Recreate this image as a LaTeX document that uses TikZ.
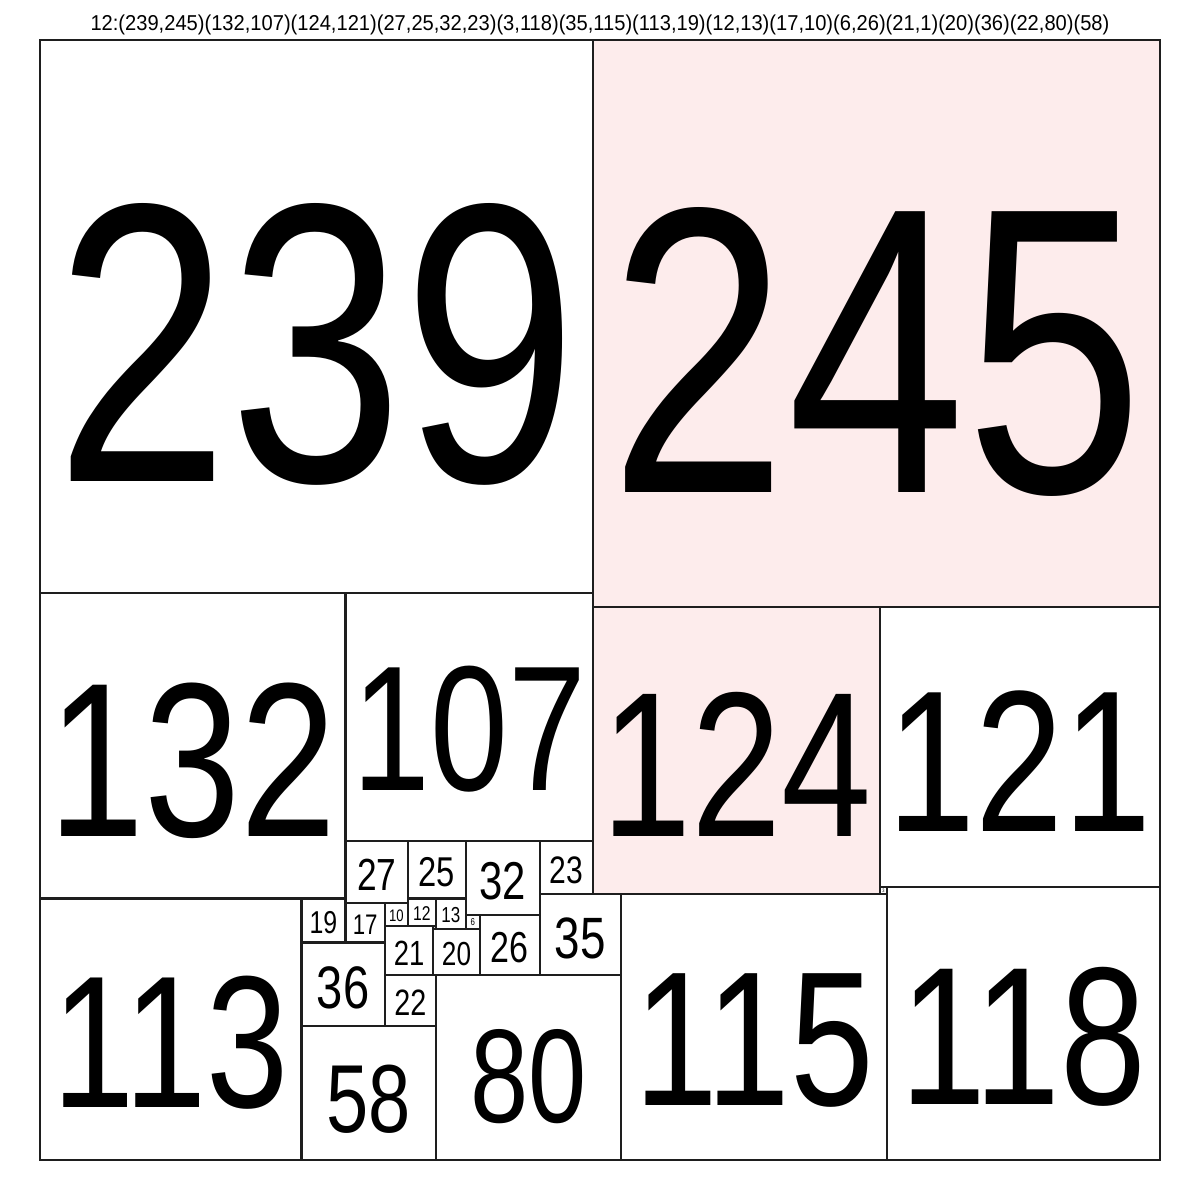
\documentclass[tikz,border=0pt]{standalone}
\usepackage{fontspec}
\usepackage{graphicx}
\setmainfont{Liberation Sans}
\definecolor{pinkfill}{RGB}{253,236,236}
\definecolor{edge}{RGB}{30,30,30}
\tikzset{
  sqline/.style={draw=edge, line width=0.95pt},
  sqlabel/.style={inner sep=0pt, text=black},
}
\newcommand\mysq[4]{% name, x, y, side
  \draw[sqline] (#2,#3) rectangle ++(#4,#4);
  \pgfmathsetmacro\myfs{0.72*#4}%
  \node[sqlabel] (#1) at ({#2+#4/2},{#3+#4*0.55}) {\fontsize{\myfs pt}{\myfs pt}\selectfont\scalebox{0.785}[1]{#4}};
}
\begin{document}
\begin{tikzpicture}[x=1pt,y=-1pt]
\useasboundingbox[fill=white] (-17.286,-17.286) rectangle (501.286,501.286);
% pink fills
\fill[pinkfill] (239,0) rectangle ++(245,245);
\fill[pinkfill] (239,245) rectangle ++(124,124);
% squares
\mysq{q239}{0}{0}{239}
\mysq{q245}{239}{0}{245}
\mysq{q132}{0}{239}{132}
\mysq{q107}{132}{239}{107}
\mysq{q124}{239}{245}{124}
\mysq{q121}{363}{245}{121}
\mysq{q27}{132}{346}{27}
\mysq{q25}{159}{346}{25}
\mysq{q32}{184}{346}{32}
\mysq{q23}{216}{346}{23}
\mysq{q3}{363}{366}{3}
\mysq{q118}{366}{366}{118}
\mysq{q35}{216}{369}{35}
\mysq{q115}{251}{369}{115}
\mysq{q113}{0}{371}{113}
\mysq{q19}{113}{371}{19}
\mysq{q12}{159}{371}{12}
\mysq{q13}{171}{371}{13}
\mysq{q17}{132}{373}{17}
\mysq{q10}{149}{373}{10}
\mysq{q6}{184}{378}{6}
\mysq{q26}{190}{378}{26}
\mysq{q21}{149}{383}{21}
\mysq{q1}{170}{383}{1}
\mysq{q20}{170}{384}{20}
\mysq{q36}{113}{390}{36}
\mysq{q22}{149}{404}{22}
\mysq{q80}{171}{404}{80}
\mysq{q58}{113}{426}{58}
% title
\node[inner sep=0pt, anchor=base] (title) at (242,-4.3) {\fontsize{9.3pt}{9.3pt}\selectfont\scalebox{0.935}[1]{12:(239,245)(132,107)(124,121)(27,25,32,23)(3,118)(35,115)(113,19)(12,13)(17,10)(6,26)(21,1)(20)(36)(22,80)(58)}};
\end{tikzpicture}
\end{document}
